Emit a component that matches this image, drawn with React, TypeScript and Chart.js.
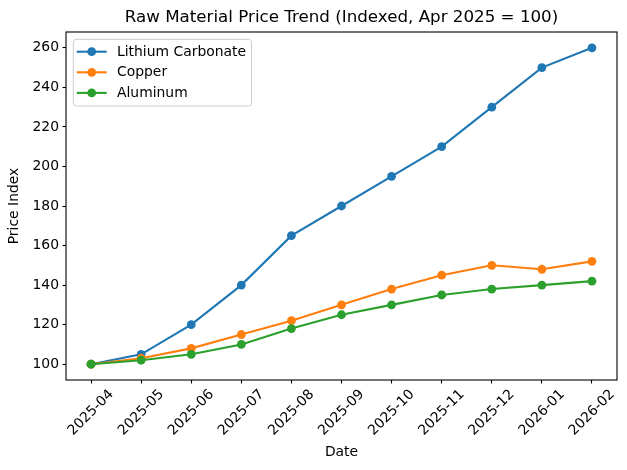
import React, { useEffect, useRef } from 'react';
import { Chart, registerables } from 'chart.js';

Chart.register(...registerables);

const months = ['2025-04', '2025-05', '2025-06', '2025-07', '2025-08', '2025-09', '2025-10', '2025-11', '2025-12', '2026-01', '2026-02'];
const lithium = [100, 105, 120, 140, 165, 180, 195, 210, 230, 250, 260];
const copper = [100, 103, 108, 115, 122, 130, 138, 145, 150, 148, 152];
const aluminum = [100, 102, 105, 110, 118, 125, 130, 135, 138, 140, 142];
const yTicks = [100, 120, 140, 160, 180, 200, 220, 240, 260];
const seriesNames = ['Lithium Carbonate', 'Copper', 'Aluminum'];
const seriesColors = ['#1f77b4', '#ff7f0e', '#2ca02c'];
const chartTitle = 'Raw Material Price Trend (Indexed, Apr 2025 = 100)';
const xTitle = 'Date';
const yTitle = 'Price Index';
const yMin = 92;
const yMax = 268;

const FAMILY = '"DejaVu Sans", sans-serif';
const FS = 13.9;

const deco = {
  id: 'deco',
  afterDraw(chart: any) {
    const ctx = chart.ctx as CanvasRenderingContext2D;
    const ca = chart.chartArea;
    ctx.save();
    // frame
    ctx.strokeStyle = '#000';
    ctx.lineWidth = 1.1;
    ctx.strokeRect(ca.left, ca.top, ca.right - ca.left, ca.bottom - ca.top);
    // title
    ctx.fillStyle = '#000';
    ctx.font = `16.7px ${FAMILY}`;
    ctx.textAlign = 'center';
    ctx.textBaseline = 'alphabetic';
    ctx.fillText(chartTitle, (ca.left + ca.right) / 2, ca.top - 10.5);
    // x tick labels (rotated, centered like matplotlib)
    const xs = chart.scales.x;
    ctx.font = `${FS}px ${FAMILY}`;
    months.forEach((lab, i) => {
      const x = xs.getPixelForTick(i);
      const w = ctx.measureText(lab).width;
      const h = FS * 1.05;
      const bh = (w + h) * Math.SQRT1_2;
      const cy = ca.bottom + 3.5 + 3.5 + bh / 2;
      ctx.save();
      ctx.translate(x, cy);
      ctx.rotate(-Math.PI / 4);
      ctx.textAlign = 'center';
      ctx.textBaseline = 'middle';
      ctx.fillText(lab, 0, 0);
      ctx.restore();
    });
    // legend
    const left = ca.left + 7.3;
    const top = ca.top + 7.3;
    const textX = left + 43.7;
    let maxW = 0;
    seriesNames.forEach((n) => { maxW = Math.max(maxW, ctx.measureText(n).width); });
    const bw = textX - left + maxW + 5.5;
    const bhh = 66.7;
    ctx.beginPath();
    ctx.roundRect(left, top, bw, bhh, 3);
    ctx.fillStyle = 'rgba(255,255,255,0.8)';
    ctx.fill();
    ctx.strokeStyle = '#cccccc';
    ctx.lineWidth = 1;
    ctx.stroke();
    seriesNames.forEach((n, i) => {
      const y = top + 12.4 + i * 20.6;
      ctx.strokeStyle = seriesColors[i];
      ctx.lineWidth = 2.1;
      ctx.beginPath();
      ctx.moveTo(left + 3.4, y);
      ctx.lineTo(left + 33.4, y);
      ctx.stroke();
      ctx.fillStyle = seriesColors[i];
      ctx.beginPath();
      ctx.arc(left + 18.4, y, 4.4, 0, Math.PI * 2);
      ctx.fill();
      ctx.fillStyle = '#000';
      ctx.textAlign = 'left';
      ctx.textBaseline = 'middle';
      ctx.fillText(n, textX, y + 0.5);
    });
    ctx.restore();
  },
};

export default function App() {
  const ref = useRef<HTMLCanvasElement>(null);
  useEffect(() => {
    if (!ref.current) return;
    const seriesData = [lithium, copper, aluminum];
    const chart = new Chart(ref.current, {
      type: 'line',
      data: {
        labels: months,
        datasets: seriesData.map((d, i) => ({
          label: seriesNames[i],
          data: d,
          borderColor: seriesColors[i],
          backgroundColor: seriesColors[i],
          pointBackgroundColor: seriesColors[i],
          pointBorderWidth: 0,
          pointRadius: 4.4,
          pointHoverRadius: 4.4,
          borderWidth: 2.1,
          tension: 0,
          fill: false,
          order: 2 - i,
        })),
      },
      options: {
        responsive: false,
        animation: false,
        devicePixelRatio: 1,
        layout: { padding: { top: 32, right: 10, left: 0, bottom: 0 } },
        plugins: {
          legend: { display: false },
          title: { display: false },
          tooltip: { enabled: false },
        },
        scales: {
          x: {
            type: 'category',
            offset: true,
            afterFit: (s: any) => { s.height = 90; },
            grid: {
              display: true,
              drawOnChartArea: false,
              drawTicks: true,
              tickLength: 3.5,
              tickWidth: 1.1,
              tickColor: '#000',
              offset: false,
            },
            border: { display: false },
            ticks: { display: false },
            title: {
              display: true,
              text: xTitle,
              color: '#000',
              font: { family: FAMILY, size: FS },
              padding: { top: 0, bottom: 9 },
            },
          },
          y: {
            type: 'linear',
            min: yMin,
            max: yMax,
            afterFit: (s: any) => { s.width = 66; },
            afterBuildTicks: (s: any) => { s.ticks = yTicks.map((v) => ({ value: v })); },
            grid: {
              display: true,
              drawOnChartArea: false,
              drawTicks: true,
              tickLength: 3.5,
              tickWidth: 1.1,
              tickColor: '#000',
            },
            border: { display: false },
            ticks: {
              color: '#000',
              font: { family: FAMILY, size: FS },
              padding: 3.5,
            },
            title: {
              display: true,
              text: yTitle,
              color: '#000',
              font: { family: FAMILY, size: FS },
              padding: { top: 6, bottom: 0 },
            },
          },
        },
      },
      plugins: [deco],
    });
    return () => chart.destroy();
  }, []);
  return (
    <div style={{ position: 'absolute', left: 0, top: 0, width: 627, height: 470, background: '#fff' }}>
      <canvas ref={ref} width={627} height={470} />
    </div>
  );
}
